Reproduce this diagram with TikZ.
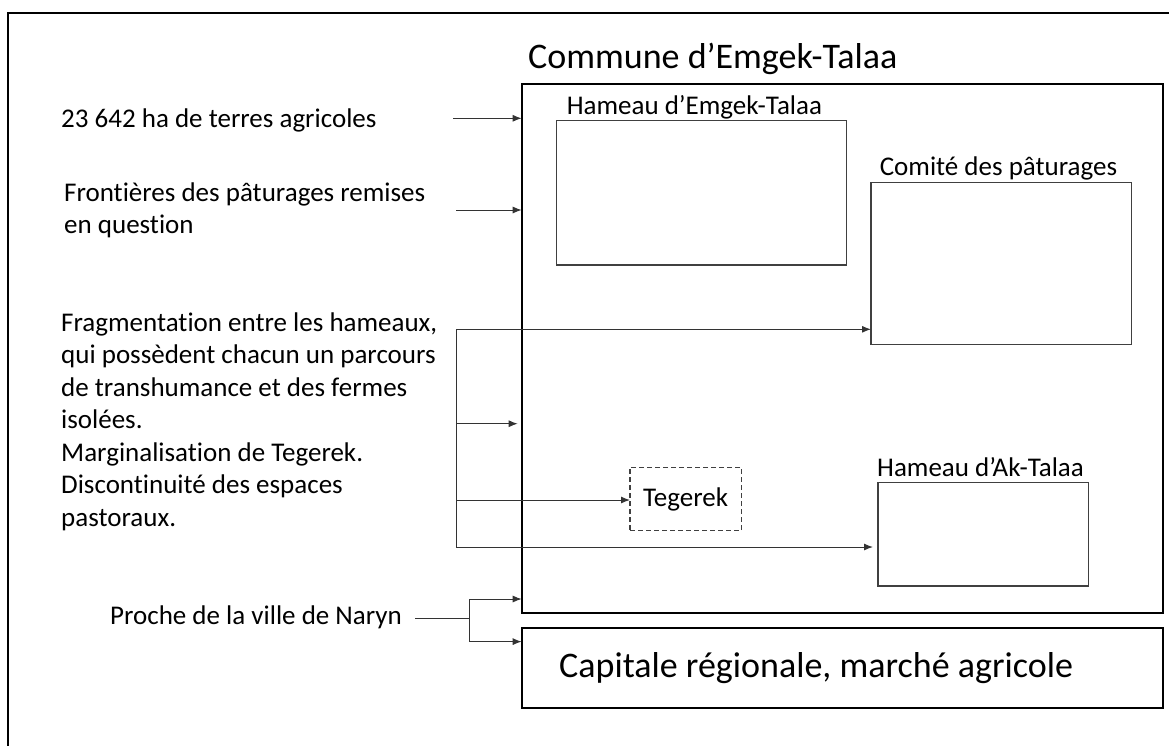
\documentclass[tikz,border=0pt]{standalone}
\usepackage{fontspec}
\setmainfont{Carlito}[Ligatures=NoCommon]
\usetikzlibrary{arrows.meta}
\begin{document}
\begin{tikzpicture}[x=1pt,y=-1pt,
  box/.style={draw=black!75, line width=1.1pt, inner sep=0pt, outer sep=0pt, anchor=north west},
  bigbox/.style={draw=black, line width=2pt, inner sep=0pt, outer sep=0pt, anchor=north west},
  lbl/.style={inner sep=0pt, anchor=base west, font=\fontsize{27}{32.5}\selectfont},
  biglbl/.style={inner sep=0pt, anchor=base west, font=\fontsize{36}{43}\selectfont},
  wire/.style={draw=black!80, line width=1pt},
  conn/.style={wire, -{Latex[length=9pt,width=7pt]}},
  ]
\useasboundingbox (0,0) rectangle (1169,745);
\begin{scope}
\clip (0,0) rectangle (1169,745);
\draw[line width=2pt] (7.5,12.5) rectangle (1200,800);
\end{scope}

% boxes
\node[bigbox, minimum width=641.3pt, minimum height=529.8pt] (commune) at (521.7,83.5) {};
\node[bigbox, minimum width=641.3pt, minimum height=79.2pt] (capitale) at (521.7,628.3) {};
\node[box, minimum width=290pt, minimum height=144.7pt] (emgek) at (556.7,120.3) {};
\node[box, minimum width=260.7pt, minimum height=161.6pt] (comite) at (871,182.7) {};
\node[box, minimum width=210.3pt, minimum height=103.3pt] (ak) at (878,482.7) {};
\node[box, dashed, dash pattern=on 5pt off 3pt, minimum width=111.3pt, minimum height=63.4pt,
      font=\fontsize{27}{32.5}\selectfont] (teg) at (630,467.3) {Tegerek};

% labels
\node[biglbl] (ttl) at (528,68) {Commune d’Emgek-Talaa};
\node[biglbl] (captxt) at (559,677) {Capitale régionale, marché agricole};
\node[lbl] (emgeklbl) at (566.6,114) {Hameau d’Emgek-Talaa};
\node[lbl] (comitelbl) at (879.6,175) {Comité des pâturages};
\node[lbl] (aklbl) at (877,476) {Hameau d’Ak-Talaa};

\node[lbl] (t1) at (61,127) {23 642 ha de terres agricoles};
\node[lbl, align=left] (t2) at (64,233.5) {Frontières des pâturages remises\\en question};
\node[lbl, align=left] (t3) at (61,526) {Fragmentation entre les hameaux,\\qui possèdent chacun un parcours\\de transhumance et des fermes\\isolées.\\Marginalisation de Tegerek.\\Discontinuité des espaces\\pastoraux.};
\node[lbl] (t4) at (110,624) {Proche de la ville de Naryn};

% connectors
\coordinate (a1) at (453,118.3);
\draw[conn] (a1) -- (a1 -| commune.west);
\coordinate (a2) at (456,210);
\draw[conn] (a2) -- (a2 -| commune.west);

\coordinate (bt) at (456,329.3);
\coordinate (bm) at (456,423.7);
\coordinate (bq) at (456,500);
\coordinate (bb) at (456,547);
\draw[wire] (bt) -- (bb);
\draw[conn] (bt) -- (bt -| comite.west);
\draw[conn, shorten >=4pt] (bm) -- (bm -| commune.west);
\draw[conn] (bq) -- (bq -| teg.west);
\draw[conn, shorten >=5pt] (bb) -- (bb -| ak.west);

\coordinate (p0) at (415,618.4);
\coordinate (pj) at (469,618.4);
\coordinate (pt) at (469,599);
\coordinate (pb) at (469,641.6);
\draw[wire] (p0) -- (pj);
\draw[wire] (pt) -- (pb);
\draw[conn] (pt) -- (pt -| commune.west);
\draw[conn] (pb) -- (pb -| capitale.west);
\end{tikzpicture}
\end{document}
